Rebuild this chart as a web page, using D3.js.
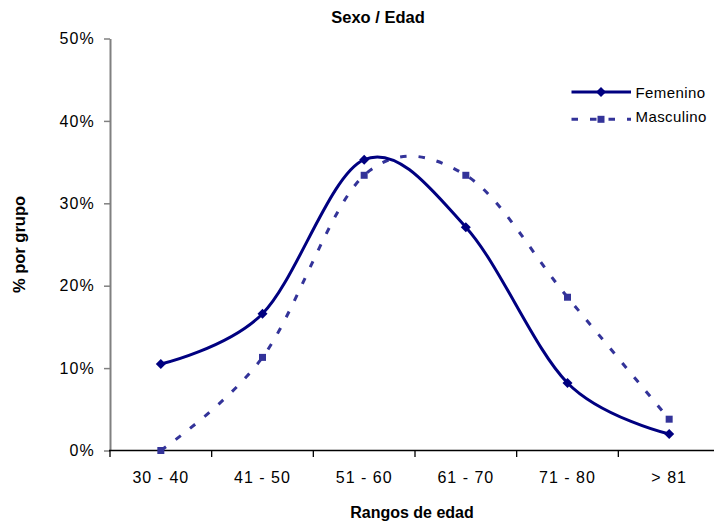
<!DOCTYPE html>
<html>
<head>
<meta charset="utf-8">
<script src="https://cdn.jsdelivr.net/npm/d3@7"></script>
<style>
  html, body { margin: 0; padding: 0; background: #fff; }
  svg { display: block; font-family: "Liberation Sans", Arial, sans-serif; }
</style>
</head>
<body>
<svg id="chart" width="714" height="521"></svg>
<script>
const categories = ["30 - 40", "41 - 50", "51 - 60", "61 - 70", "71 - 80", "> 81"];
const femenino = [10.5, 16.6, 35.3, 27.1, 8.2, 2.0];
const masculino = [0.0, 11.3, 33.4, 33.4, 18.6, 3.8];
const yTicks = [0, 10, 20, 30, 40, 50];
const seriesNames = ["Femenino", "Masculino"];

(function () {
const svg = d3.select("#chart");
const pLeft = 110, pRight = 720, pTop = 38.5, pBottom = 450.5;

const x = d3.scaleBand().domain(categories).range([pLeft, pRight]).padding(0);
const y = d3.scaleLinear().domain([0, 50]).range([pBottom, pTop]);
const cx = d => x(d) + x.bandwidth() / 2;

// Title
svg.append("text").attr("x", 378).attr("y", 23).attr("text-anchor", "middle")
  .style("font-size", "16.5px").style("font-weight", "bold").text("Sexo / Edad");

// Y axis
const yAxis = svg.append("g").attr("transform", `translate(${pLeft},0)`)
  .call(d3.axisLeft(y).tickValues(yTicks).tickFormat(d => d + "%").tickSize(6).tickSizeOuter(0).tickPadding(9));
yAxis.select(".domain").attr("stroke", "#808080").attr("stroke-width", 2);
yAxis.selectAll(".tick line").attr("stroke", "#808080").attr("stroke-width", 1.5);
yAxis.selectAll(".tick text").style("font-size", "16px").style("letter-spacing", "1.2px")
  .attr("fill", "#000").style("font-family", "'Liberation Sans', Arial, sans-serif");

// X axis (labels)
const xAxis = svg.append("g").attr("transform", `translate(0,${pBottom})`)
  .call(d3.axisBottom(x).tickSize(0).tickSizeOuter(0).tickPadding(21.5));
xAxis.select(".domain").remove();
xAxis.selectAll(".tick text").style("font-size", "16px").style("letter-spacing", "1px")
  .attr("fill", "#000").style("font-family", "'Liberation Sans', Arial, sans-serif");
// x axis line + boundary ticks
const bounds = d3.range(categories.length + 1).map(i => pLeft + i * x.step());
svg.append("line").attr("x1", pLeft - 1).attr("x2", pRight).attr("y1", pBottom).attr("y2", pBottom)
  .attr("stroke", "#000").attr("stroke-width", 1.5);
svg.append("g").selectAll("line").data(bounds).join("line")
  .attr("x1", d => d).attr("x2", d => d).attr("y1", pBottom).attr("y2", pBottom + 6.5)
  .attr("stroke", "#000").attr("stroke-width", 1.3);

// Axis titles
svg.append("text").attr("x", 412).attr("y", 518).attr("text-anchor", "middle")
  .style("font-size", "16px").style("font-weight", "bold").text("Rangos de edad");
svg.append("text").attr("transform", `translate(25,${(pTop + pBottom) / 2}) rotate(-90)`)
  .attr("text-anchor", "middle").style("font-size", "16.5px").style("font-weight", "bold").text("% por grupo");

// Lines
const curve = d3.curveCardinal.tension(0);
const line = d3.line().x((d, i) => cx(categories[i])).y(d => y(d)).curve(curve);

const femColor = "#000080", masColor = "#333399";

svg.append("path").datum(masculino).attr("d", line).attr("fill", "none")
  .attr("stroke", masColor).attr("stroke-width", 3).attr("stroke-dasharray", "6.5,12");
svg.append("path").datum(femenino).attr("d", line).attr("fill", "none")
  .attr("stroke", femColor).attr("stroke-width", 3);

const diamond = s => `M0,${-s}L${s},0L0,${s}L${-s},0Z`;
const square = s => `M${-s},${-s}H${s}V${s}H${-s}Z`;

svg.append("g").selectAll("path").data(masculino).join("path")
  .attr("transform", (d, i) => `translate(${cx(categories[i])},${y(d)})`)
  .attr("d", square(3.5)).attr("fill", masColor);
svg.append("g").selectAll("path").data(femenino).join("path")
  .attr("transform", (d, i) => `translate(${cx(categories[i])},${y(d)})`)
  .attr("d", diamond(5)).attr("fill", femColor);

// Legend
const lg = svg.append("g");
lg.append("line").attr("x1", 571.5).attr("x2", 631).attr("y1", 92).attr("y2", 92)
  .attr("stroke", femColor).attr("stroke-width", 3);
lg.append("path").attr("transform", "translate(601,92)").attr("d", diamond(5)).attr("fill", femColor);
lg.append("text").attr("x", 635.5).attr("y", 98.3).style("font-size", "15px").style("letter-spacing", "0.4px").text(seriesNames[0]);
lg.append("line").attr("x1", 571.5).attr("x2", 631).attr("y1", 119.3).attr("y2", 119.3)
  .attr("stroke", masColor).attr("stroke-width", 3).attr("stroke-dasharray", "6.5,12");
lg.append("path").attr("transform", "translate(601,119.3)").attr("d", square(3.5)).attr("fill", masColor);
lg.append("text").attr("x", 635.5).attr("y", 122).style("font-size", "15px").style("letter-spacing", "0.4px").text(seriesNames[1]);
})();
</script>
</body>
</html>
